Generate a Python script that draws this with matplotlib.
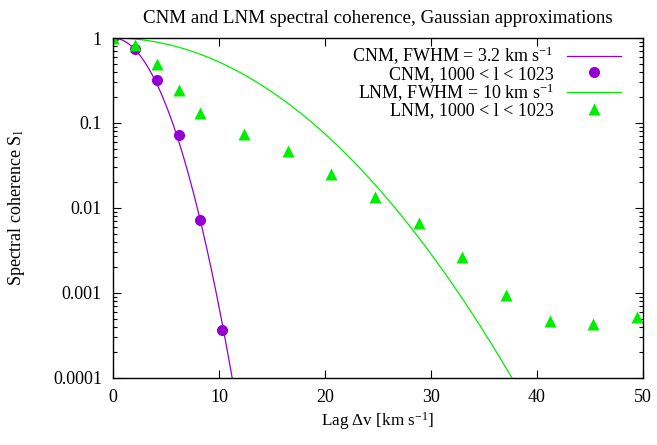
import matplotlib
matplotlib.use('Agg')
from matplotlib import pyplot as plt
from matplotlib.ticker import LogLocator, FixedLocator, NullFormatter
import numpy as np

# measured spectral coherence, lags in km/s
cnm_lag = [0.0, 2.06, 4.12, 6.18, 8.24, 10.3]
cnm_coh = [1.0, 0.74, 0.318, 0.0727, 0.00723, 0.000367]

lnm_lag = [0.0, 2.06, 4.12, 6.18, 8.24, 12.36, 16.48, 20.6, 24.72, 28.84,
           32.96, 37.08, 41.2, 45.32, 49.44]
lnm_coh = [1.0, 0.834, 0.50, 0.243, 0.130, 0.0733, 0.0467, 0.0253, 0.01345,
           0.00674, 0.00266, 0.000952, 0.000468, 0.000432, 0.000518]

# gaussian widths of the approximations (km/s)
cnm_width = 2.62
lnm_width = 8.77

x_ticks = [0, 10, 20, 30, 40, 50]
y_ticks = [1e-4, 1e-3, 1e-2, 1e-1, 1]
y_tick_labels = ['0.0001', '0.001', '0.01', '0.1', '1']

plt.rcParams['font.family'] = ['Liberation Serif', 'DejaVu Serif']
plt.rcParams['mathtext.default'] = 'regular'
plt.rcParams['font.size'] = 13

purple = '#9400d3'
green = '#00ee00'


def gauss(lag, width):
    return np.exp(-lag ** 2 / (2.0 * width ** 2))


fig = plt.figure(figsize=(6.57, 4.45), dpi=100)
ax = fig.add_axes([0.172, 0.1506, 0.8067, 0.764])

lag = np.linspace(0, 50, 1000)
ax.plot(lag, gauss(lag, cnm_width), color=purple, lw=0.9,
        label='CNM, FWHM = 3.2 km s$^{-1}$')
ax.plot(cnm_lag, cnm_coh, 'o', color=purple, ms=8, mec='none',
        label='CNM, 1000 < l < 1023')
ax.plot(lag, gauss(lag, lnm_width), color=green, lw=0.9,
        label='LNM, FWHM = 10 km s$^{-1}$')
ax.plot(lnm_lag, lnm_coh, '^', color=green, ms=9, mec='none',
        label='LNM, 1000 < l < 1023')

ax.set_yscale('log')
ax.set_xlim(0, 50)
ax.set_ylim(1e-4, 1)
ax.set_xticks(x_ticks)
ax.yaxis.set_major_locator(FixedLocator(y_ticks))
ax.set_yticklabels(y_tick_labels)
ax.yaxis.set_minor_locator(LogLocator(base=10, subs=np.arange(2, 10)))
ax.yaxis.set_minor_formatter(NullFormatter())
ax.tick_params(which='both', direction='in', top=True, right=True, width=0.8)
ax.tick_params(which='major', length=6, pad=8)
ax.tick_params(which='minor', length=3)
for s in ax.spines.values():
    s.set_linewidth(1.0)

ax.set_title('CNM and LNM spectral coherence, Gaussian approximations',
             fontsize=13.7, pad=11)
ax.set_xlabel('Lag \u0394v [km s$^{-1}$]', fontsize=12.3, labelpad=3)
ax.set_ylabel('Spectral coherence S$_l$', labelpad=19)

ax.legend(loc='upper right', bbox_to_anchor=(0.975, 1.006), frameon=False,
          markerfirst=False, borderpad=0, handlelength=3.0, handletextpad=0.7,
          labelspacing=-0.08, fontsize=13)

plt.savefig('out.png', dpi=100)
plt.close()
